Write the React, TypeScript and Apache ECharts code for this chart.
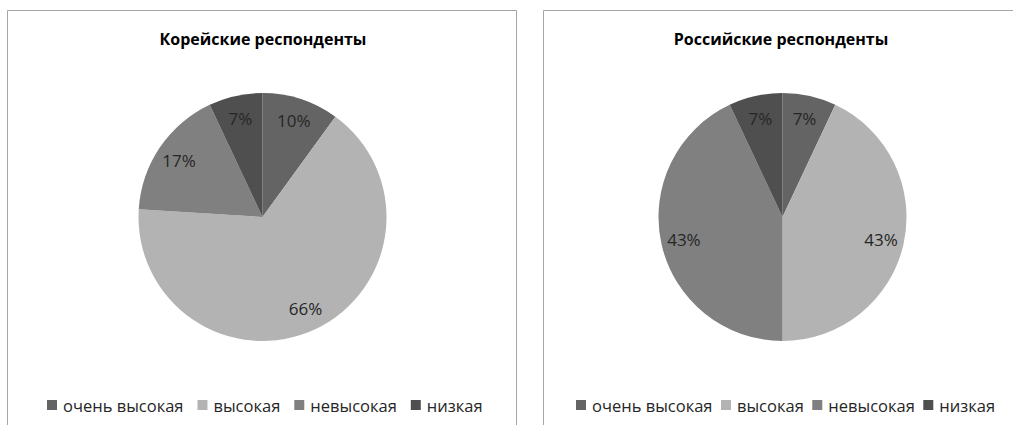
import React, { useEffect, useRef } from "react";
import * as echarts from "echarts";

const categories = ["очень высокая", "высокая", "невысокая", "низкая"];
const koreanValues = [10, 66, 17, 7];
const russianValues = [7, 43, 43, 7];
const titles = ["Корейские респонденты", "Российские респонденты"];
const colors = ["#646464", "#b3b3b3", "#808080", "#4f4f4f"];

const FONT = "'Open Sans', 'Noto Sans', sans-serif";

function buildData(values: number[]) {
  return categories.map((name, i) => ({ name, value: values[i], itemStyle: { color: colors[i] } }));
}

function pieSeries(values: number[], cx: number) {
  return [
    {
      type: "pie",
      center: [cx, 217],
      radius: [0, 124],
      startAngle: 90,
      clockwise: true,
      silent: true,
      label: { show: false },
      labelLine: { show: false },
      itemStyle: { borderWidth: 0 },
      emphasis: { disabled: true },
      data: buildData(values),
    },
    {
      type: "pie",
      center: [cx, 217],
      radius: [72, 124],
      startAngle: 90,
      clockwise: true,
      silent: true,
      labelLine: { show: false },
      emphasis: { disabled: true },
      itemStyle: { color: "rgba(0,0,0,0)", borderWidth: 0 },
      label: {
        show: true,
        position: "inside",
        formatter: (p: any) => p.value + "%",
        fontFamily: FONT,
        fontSize: 17,
        color: "#262626",
      },
      data: categories.map((name, i) => ({ name, value: values[i] })),
    },
  ];
}

function legend(left: number, gap: number) {
  return {
    left,
    top: 396,
    padding: 0,
    orient: "horizontal",
    icon: "rect",
    itemWidth: 10,
    itemHeight: 10,
    itemGap: gap,
    selectedMode: false,
    textStyle: {
      fontFamily: FONT,
      fontSize: 16.5,
      lineHeight: 18,
      color: "#262626",
      padding: [0, 0, 0, 1],
    },
    data: categories.map((name, i) => ({ name, itemStyle: { color: colors[i] } })),
  };
}

export default function App() {
  const ref = useRef<HTMLDivElement>(null);
  useEffect(() => {
    if (!ref.current) return;
    const chart = echarts.init(ref.current, null, { renderer: "svg" });
    chart.setOption({
      animation: false,
      backgroundColor: "#ffffff",
      legend: [legend(47, 14), legend(576, 8.5)],
      graphic: [
        {
          type: "rect",
          shape: { x: 7.5, y: 10.5, width: 509, height: 430 },
          style: { fill: "none", stroke: "#a6a6a6", lineWidth: 1 },
          silent: true,
          z: -10,
        },
        {
          type: "rect",
          shape: { x: 543.5, y: 10.5, width: 490, height: 430 },
          style: { fill: "none", stroke: "#a6a6a6", lineWidth: 1 },
          silent: true,
          z: -10,
        },
        {
          type: "text",
          x: 263,
          y: 39,
          style: {
            text: titles[0],
            fontFamily: FONT,
            fontSize: 16,
            fontWeight: "bold",
            fill: "#000000",
            textAlign: "center",
            textVerticalAlign: "middle",
          },
        },
        {
          type: "text",
          x: 781,
          y: 39,
          style: {
            text: titles[1],
            fontFamily: FONT,
            fontSize: 16,
            fontWeight: "bold",
            fill: "#000000",
            textAlign: "center",
            textVerticalAlign: "middle",
          },
        },
      ],
      series: [...pieSeries(koreanValues, 262.5), ...pieSeries(russianValues, 782.5)],
    });
    return () => chart.dispose();
  }, []);
  return (
    <div
      ref={ref}
      style={{ position: "fixed", left: 0, top: 0, width: 1013, height: 425 }}
    />
  );
}
